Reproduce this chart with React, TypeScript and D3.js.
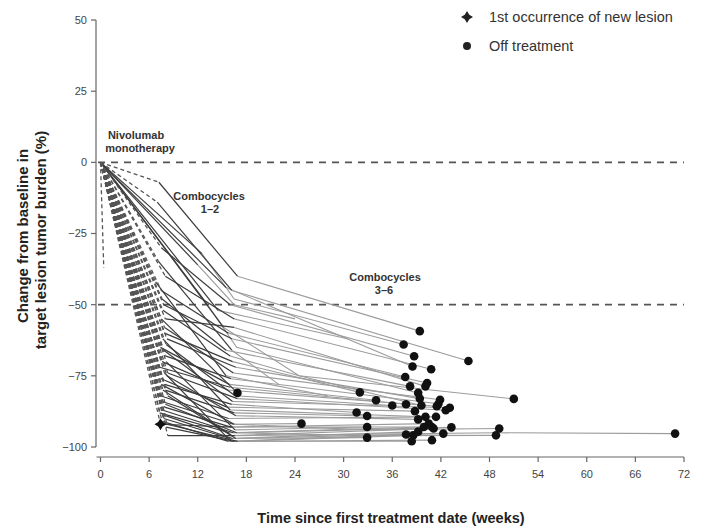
import React from "react";
import * as d3 from "d3";

// ---- data ----
const xTicks = [0, 6, 12, 18, 24, 30, 36, 42, 48, 54, 60, 66, 72];
const yTicks = [50, 25, 0, -25, -50, -75, -100];
const refLines = [0, -50];

// Monotherapy assessment (dashed segment from baseline); null = none
const monoWeeks: (number | null)[] = [7.2, 7.0, null, 7.5, null, 8.0, 7.5, 7.8, 8.0, 7.6, 7.9, null, 7.7, 8.2, 7.4, 7.9, 8.0, 7.6, 8.1, 7.3, null, 7.8, 8.3, 7.5, 7.9, 8.0, 7.7, 7.4, 8.2, 7.6, 7.9, 8.1, 7.3, 7.4, 7.7, 8.0, 7.5, 7.8, 8.3, 7.6, 7.9, 8.2, 8.0, 8.3, 7.6, 8.1, 0.4, 7.5, null, null, 6.8, 7.2];
const monoValues: (number | null)[] = [-7, -14, null, -30, null, -40, -45, -50, -55, -48, -60, null, -52, -62, -65, -58, -68, -70, -64, -72, null, -66, -74, -76, -78, -80, -62, -82, -75, -84, -86, -70, -88, -92, -80, -85, -78, -90, -82, -87, -74, -92, -89, -96, -91, -93, -37, -55, null, null, -42, -35];
// End of combocycles 1-2
const comboWeeks: (number | null)[] = [16.9, 16.2, 12.5, 16.0, 15.5, 16.5, 15.8, 16.2, 16.5, 15.5, 16.3, 13.2, 16.0, 16.7, 15.9, 16.4, 16.1, 15.7, 16.6, 16.0, 15.2, 16.3, 16.9, 15.6, 16.2, 16.5, 16.0, 15.8, 16.7, 16.4, 16.1, 16.6, 15.9, 16.3, 16.2, 16.8, 16.5, 16.0, 16.7, 16.4, 16.1, 16.9, 16.3, 16.6, 15.8, 16.5, null, 16.9, 12.0, 14.5, 15.5, 16.2];
const comboValues: (number | null)[] = [-40, -45, -32, -50, -44, -55, -60, -62, -58, -66, -70, -50, -68, -72, -78, -74, -76, -80, -82, -79, -58, -84, -83, -86, -85, -88, -87, -90, -89, -92, -93, -94, -95, -93, -96, -95, -92, -97, -97, -95, -98, -98, -97, -96, -98, -98, null, -81, -36, -52, -75, -66];
// Optional intermediate point during combocycles 3-6 and beyond
const midWeeks: (number | null)[] = [null, null, 16.5, null, null, null, null, null, null, null, null, 16.8, 24.5, null, null, null, null, null, null, null, 24.5, null, null, null, null, null, null, null, null, null, null, null, null, null, null, null, 33.0, null, null, 33.0, null, null, null, 49.0, null, null, null, null, 16.5, null, null, null];
const midValues: (number | null)[] = [null, null, -48, null, null, null, null, null, null, null, null, -65, -75, null, null, null, null, null, null, null, -75, null, null, null, null, null, null, null, null, null, null, null, null, null, null, null, -94, null, null, -96, null, null, null, -95, null, null, null, null, -50, null, null, null];
// Final assessment
const lastWeeks: (number | null)[] = [39.4, 45.4, 37.4, 38.7, 38.5, 40.8, 37.6, 40.3, 40.1, 38.2, 32.0, 39.2, 51.0, 39.4, 34.0, 41.9, 41.7, 41.5, 36.0, 37.7, 39.6, 43.1, 42.6, 38.8, 31.6, 32.9, 40.1, 41.4, 39.2, 24.8, 40.5, 32.9, 39.9, 40.9, 41.1, 43.3, 49.2, 39.2, 42.3, 48.8, 37.7, 38.6, 32.9, 70.9, 38.4, 40.9, null, null, 24.0, 30.5, 28.0, 22.0];
const lastValues: (number | null)[] = [-59.3, -69.8, -64, -68.1, -71.7, -72.7, -75.4, -77.5, -78.7, -78.7, -80.8, -81, -83.1, -83, -83.6, -83.4, -84.8, -85.7, -85.4, -85, -85.4, -86.2, -87.1, -87.4, -87.9, -89.1, -89.4, -89.4, -90.3, -91.8, -91.8, -93, -93, -93, -93.5, -93.1, -93.5, -94.6, -95.3, -95.9, -95.6, -95.9, -96.7, -95.3, -98, -97.6, null, null, -55, -62, -82, -78];
// End markers: "off" = off treatment
const offTreatment: boolean[] = [true, true, true, true, true, true, true, true, true, true, true, true, true, true, true, true, true, true, true, true, true, true, true, true, true, true, true, true, true, true, true, true, true, true, true, true, true, true, true, true, true, true, true, true, true, true, false, true, false, false, false, false];
// 1st occurrence of new lesion: [week, value]
const lesionWeeks = [7.4];
const lesionValues = [-92];

const legendLabels = ["1st occurrence of new lesion", "Off treatment"];

const W = 702;
const H = 529;

const x = d3.scaleLinear().domain([0, 72]).range([100.5, 684]);
const y = d3.scaleLinear().domain([50, -100]).range([20, 447]);
const AXIS_X = 96;
const AXIS_Y = 457;

const FONT = "'Liberation Sans', Arial, Helvetica, sans-serif";

function starPath(cx: number, cy: number, r: number) {
  const i = r * 0.38;
  return `M${cx},${cy - r} L${cx + i},${cy - i} L${cx + r},${cy} L${cx + i},${cy + i} L${cx},${cy + r} L${cx - i},${cy + i} L${cx - r},${cy} L${cx - i},${cy - i} Z`;
}

export default function App() {
  const line = d3
    .line<[number, number]>()
    .x((d) => x(d[0]))
    .y((d) => y(d[1]));

  const mono: string[] = [];
  const combo: string[] = [];
  const later: string[] = [];
  const dots: [number, number][] = [];

  monoWeeks.forEach((_, i) => {
    const start: [number, number] = [0, 0];
    let prev = start;
    const mw = monoWeeks[i];
    const mv = monoValues[i];
    if (mw != null && mv != null) {
      mono.push(line([prev, [mw, mv]]) as string);
      prev = [mw, mv];
    }
    const cw = comboWeeks[i];
    const cv = comboValues[i];
    if (cw != null && cv != null) {
      combo.push(line([prev, [cw, cv]]) as string);
      prev = [cw, cv];
    }
    const pts: [number, number][] = [prev];
    const iw = midWeeks[i];
    const iv = midValues[i];
    if (iw != null && iv != null) pts.push([iw, iv]);
    const lw = lastWeeks[i];
    const lv = lastValues[i];
    if (lw != null && lv != null) pts.push([lw, lv]);
    if (pts.length > 1) later.push(line(pts) as string);
    if (offTreatment[i]) {
      const last = pts[pts.length - 1];
      dots.push(last);
    }
  });

  return (
    <svg
      width={W}
      height={H}
      style={{ position: "fixed", left: 0, top: 0, background: "#fff" }}
      fontFamily={FONT}
    >
      <rect width={W} height={H} fill="#fff" />
      {/* reference lines */}
      {refLines.map((v) => (
        <line
          key={v}
          x1={AXIS_X + 2}
          x2={x(72)}
          y1={y(v)}
          y2={y(v)}
          stroke="#555"
          strokeWidth={1.8}
          strokeDasharray="7,6"
        />
      ))}
      {/* later phase */}
      <g fill="none" stroke="#9c9c9c" strokeWidth={1.1}>
        {later.map((d, i) => (
          <path key={i} d={d} />
        ))}
      </g>
      {/* combocycles 1-2 */}
      <g fill="none" stroke="#3c3c3c" strokeWidth={1.2}>
        {combo.map((d, i) => (
          <path key={i} d={d} />
        ))}
      </g>
      {/* monotherapy */}
      <g fill="none" stroke="#555" strokeWidth={1.3} strokeDasharray="4,3">
        {mono.map((d, i) => (
          <path key={i} d={d} />
        ))}
      </g>
      {/* markers */}
      {dots.map((d, i) => (
        <circle key={i} cx={x(d[0])} cy={y(d[1])} r={4.3} fill="#111" />
      ))}
      {lesionWeeks.map((w, i) => (
        <path key={i} d={starPath(x(w), y(lesionValues[i]), 6)} fill="#111" />
      ))}

      {/* y axis */}
      <line x1={AXIS_X} x2={AXIS_X} y1={y(50)} y2={y(-100)} stroke="#666" strokeWidth={1.2} />
      {yTicks.map((t) => (
        <g key={t}>
          <line x1={AXIS_X - 5} x2={AXIS_X} y1={y(t)} y2={y(t)} stroke="#666" strokeWidth={1.2} />
          <text x={AXIS_X - 9} y={y(t)} dy="0.35em" textAnchor="end" fontSize={11} fill="#444">
            {t < 0 ? `\u2212${Math.abs(t)}` : t}
          </text>
        </g>
      ))}
      {/* x axis */}
      <line x1={x(0) - 4} x2={x(72)} y1={AXIS_Y} y2={AXIS_Y} stroke="#666" strokeWidth={1.2} />
      {xTicks.map((t) => (
        <g key={t}>
          <line x1={x(t)} x2={x(t)} y1={AXIS_Y} y2={AXIS_Y + 5} stroke="#666" strokeWidth={1.2} />
          <text x={x(t)} y={AXIS_Y + 21} textAnchor="middle" fontSize={11} fill="#444">
            {t}
          </text>
        </g>
      ))}

      {/* axis titles */}
      <text x={391} y={523} textAnchor="middle" fontSize={14.5} fontWeight="bold" fill="#222">
        Time since first treatment date (weeks)
      </text>
      <text transform="translate(28,236) rotate(-90)" textAnchor="middle" fontSize={15} fontWeight="bold" fill="#222">
        Change from baseline in
      </text>
      <text transform="translate(46,240) rotate(-90)" textAnchor="middle" fontSize={15} fontWeight="bold" fill="#222">
        target lesion tumor burden (%)
      </text>

      {/* annotations */}
      <g fontSize={11} fontWeight="bold" fill="#333" textAnchor="middle">
        <text x={136} y={139}>Nivolumab</text>
        <text x={140} y={152}>monotherapy</text>
        <text x={209} y={200}>Combocycles</text>
        <text x={210} y={213}>1–2</text>
        <text x={385} y={281}>Combocycles</text>
        <text x={384} y={294}>3–6</text>
      </g>

      {/* legend */}
      <path d={starPath(467, 17, 6)} fill="#222" />
      <circle cx={467} cy={46} r={4} fill="#222" />
      <text x={489} y={17} dy="0.35em" fontSize={14.5} fill="#333">
        {legendLabels[0]}
      </text>
      <text x={489} y={46} dy="0.35em" fontSize={14.5} fill="#333">
        {legendLabels[1]}
      </text>
    </svg>
  );
}
